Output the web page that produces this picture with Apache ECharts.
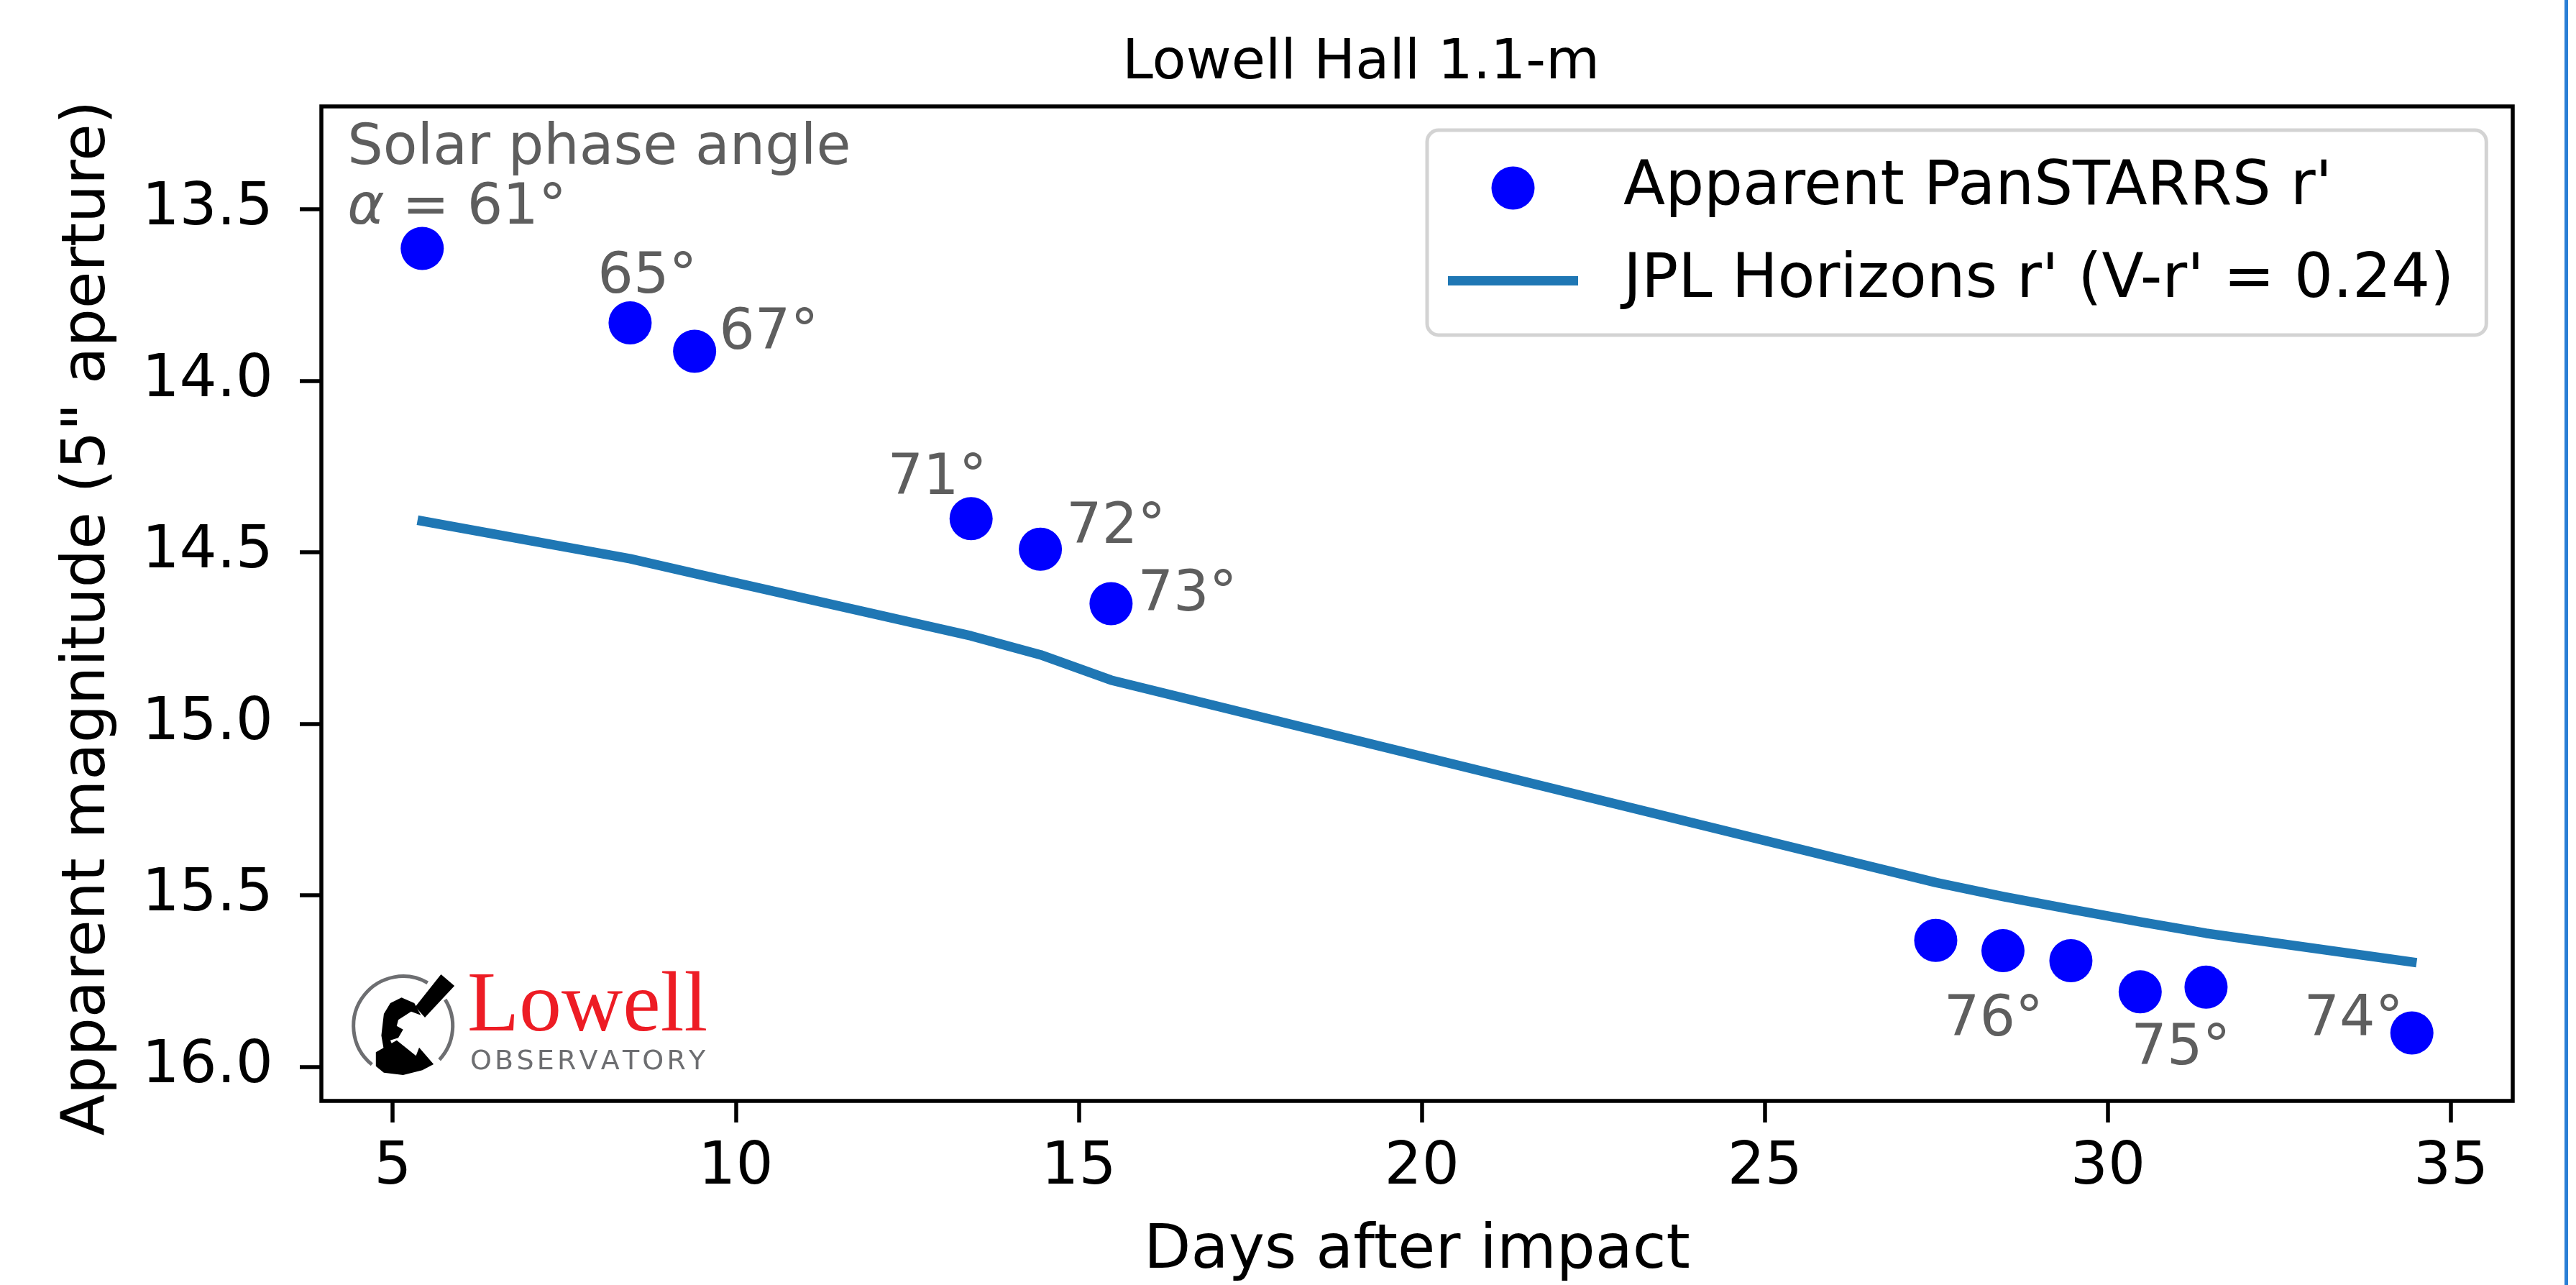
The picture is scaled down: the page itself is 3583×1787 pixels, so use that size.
<!DOCTYPE html>
<html><head><meta charset="utf-8">
<script src="https://cdn.jsdelivr.net/npm/echarts@6/dist/echarts.min.js"></script>
<style>html,body{margin:0;padding:0;background:#fff;} #c{width:3583px;height:1787px;}</style>
</head><body><div id="c"></div>
<script>
// ---- data ----
const days = [5.43, 8.46, 9.40, 13.43, 14.44, 15.47, 27.49, 28.47, 29.46, 30.47, 31.43, 34.43];
const apparentMag = [13.614, 13.831, 13.914, 14.402, 14.491, 14.650, 15.632, 15.662, 15.691, 15.782, 15.768, 15.902];
const horizonsMag = [14.409, 14.519, 14.562, 14.744, 14.799, 14.873, 15.463, 15.504, 15.541, 15.578, 15.611, 15.695];
const phaseAngles = ['61°', '65°', '67°', '71°', '72°', '73°', '', '76°', '', '', '75°', '74°'];
const xTicks = [5, 10, 15, 20, 25, 30, 35];
const yTicks = [13.5, 14.0, 14.5, 15.0, 15.5, 16.0];
const seriesNames = ["Apparent PanSTARRS r'", "JPL Horizons r' (V-r' = 0.24)"];
const subtitle = 'Lowell Hall 1.1-m';
const xName = 'Days after impact';
const yName = 'Apparent magnitude (5" aperture)';

// ---- label placement (style only) ----
const labelPlace = {
  0: {align: 'left', dx: -104, dy: -96},
  1: {align: 'center', dx: 24, dy: -62.5},
  2: {align: 'left', dx: 34, dy: -24},
  3: {align: 'right', dx: 22, dy: -54},
  4: {align: 'left', dx: 36, dy: -29},
  5: {align: 'left', dx: 37, dy: -10.5},
  7: {align: 'center', dx: -13, dy: 97.5},
  10: {align: 'center', dx: -35, dy: 87},
  11: {align: 'right', dx: -12, dy: -17}
};

const FONT = 'DejaVu Sans';
const GRAY = '#5e5e5e';

const scatterData = days.map((d, i) => {
  const item = {value: [d, apparentMag[i]]};
  if (phaseAngles[i] && labelPlace[i]) {
    const p = labelPlace[i];
    item.label = {
      show: true, position: 'inside', align: p.align, verticalAlign: 'middle',
      offset: [p.dx, p.dy],
      formatter: i === 0 ? 'Solar phase angle\n{a|α} = ' + phaseAngles[i] : phaseAngles[i]
    };
  }
  return item;
});
const lineData = days.map((d, i) => [d, horizonsMag[i]]);

// letter-spaced logo caption
const logoWord = 'OBSERVATORY';
const logoLetters = (function () {
  const ctx = document.createElement('canvas').getContext('2d');
  ctx.font = '38px "DejaVu Sans"';
  const spacing = 4.2;
  let x = 654;
  const out = [];
  for (const ch of logoWord) {
    out.push({type: 'text', z: 11, x: x, y: 1477,
      style: {text: ch, fill: '#6d6e71', fontFamily: FONT, fontSize: 38, verticalAlign: 'middle', align: 'left'}});
    x += ctx.measureText(ch).width + spacing;
  }
  return out;
})();

const chart = echarts.init(document.getElementById('c'), null, {renderer: 'canvas'});
chart.setOption({
  backgroundColor: '#ffffff',
  animation: false,
  title: {
    text: subtitle, left: 1893, top: 50, textAlign: 'center', padding: 0,
    textStyle: {fontFamily: FONT, fontSize: 77, fontWeight: 'normal', color: '#000'}
  },
  legend: {
    orient: 'vertical', left: 1985, top: 181,
    padding: [38, 45, 33, 29],
    itemWidth: 181, itemHeight: 60, itemGap: 44,
    backgroundColor: 'rgba(255,255,255,0.8)',
    borderColor: '#d3d3d3', borderWidth: 5, borderRadius: 16,
    textStyle: {fontFamily: FONT, fontSize: 85, color: '#000', lineHeight: 80, padding: [0, 0, 0, 58]},
    data: [
      {name: seriesNames[0], icon: 'circle'},
      {name: seriesNames[1], icon: 'path://M0 0H181V13H0Z'}
    ]
  },
  grid: {
    left: 447, top: 148, width: 3048, height: 1383,
    show: true, borderColor: '#000', borderWidth: 5.5, backgroundColor: 'transparent',
    outerBoundsMode: 'none', containLabel: false
  },
  xAxis: {
    type: 'value', min: 3.96, max: 35.9,
    axisLine: {show: false},
    splitLine: {show: false},
    axisTick: {show: true, inside: false, length: 30, lineStyle: {color: '#000', width: 5.5}, customValues: xTicks},
    axisLabel: {fontFamily: FONT, fontSize: 82, color: '#000', margin: 53, customValues: xTicks,
      formatter: v => String(v)},
    name: xName, nameLocation: 'middle', nameGap: 167,
    nameTextStyle: {fontFamily: FONT, fontSize: 85, color: '#000'}
  },
  yAxis: {
    type: 'value', inverse: true, min: 13.2, max: 16.1,
    axisLine: {show: false},
    splitLine: {show: false},
    axisTick: {show: true, inside: false, length: 30, lineStyle: {color: '#000', width: 5.5}, customValues: yTicks},
    axisLabel: {fontFamily: FONT, fontSize: 82, color: '#000', margin: 67, customValues: yTicks,
      formatter: v => Number(v).toFixed(1)},
    name: yName, nameLocation: 'middle', nameGap: 282, nameRotate: 90,
    nameTextStyle: {fontFamily: FONT, fontSize: 84, color: '#000', padding: [0, 40, 0, 0]}
  },
  series: [
    {
      name: seriesNames[0], type: 'scatter', z: 3,
      symbol: 'circle', symbolSize: 60,
      itemStyle: {color: '#0000ff', borderWidth: 0, opacity: 1},
      label: {
        show: false, fontFamily: FONT, fontSize: 78, color: GRAY, lineHeight: 83.5,
        rich: {a: {fontFamily: FONT, fontStyle: 'italic', fontSize: 78, color: GRAY, lineHeight: 83.5}}
      },
      emphasis: {disabled: true},
      data: scatterData
    },
    {
      name: seriesNames[1], type: 'line', z: 2,
      color: '#1f77b4',
      showSymbol: false, symbol: 'none',
      itemStyle: {color: '#1f77b4', borderWidth: 0},
      lineStyle: {color: '#1f77b4', width: 13.3, cap: 'square', join: 'round'},
      emphasis: {disabled: true},
      data: lineData
    }
  ],
  graphic: [
    // Lowell Observatory logo (approximation)
    {type: 'arc', z: 10, shape: {cx: 560.7, cy: 1426.7, r: 69, startAngle: 129 * Math.PI / 180, endAngle: 299.6 * Math.PI / 180, clockwise: true},
      style: {stroke: '#6d6e71', lineWidth: 5, fill: null}},
    {type: 'arc', z: 10, shape: {cx: 560.7, cy: 1426.7, r: 69, startAngle: -32 * Math.PI / 180, endAngle: 43 * Math.PI / 180, clockwise: true},
      style: {stroke: '#6d6e71', lineWidth: 5, fill: null}},
    {type: 'polygon', z: 11, shape: {points: [[613.4, 1355], [632.1, 1371], [591, 1415], [577.7, 1400]]}, style: {fill: '#000'}},
    {type: 'polygon', z: 11, shape: {points: [[558.5, 1387.3], [576.3, 1395], [585.3, 1411.7], [571.9, 1406.7], [554, 1418.3], [551.8, 1426.7], [560.7, 1431.7], [554, 1443.3], [542.9, 1446.7], [547.3, 1456.7], [533.9, 1460], [530.4, 1440], [533.9, 1410], [542.9, 1395]]}, style: {fill: '#000'}},
    {type: 'polygon', z: 11, shape: {points: [[522.8, 1463.3], [551.8, 1446.7], [578.6, 1468.3], [583, 1456.7], [603.1, 1480], [587.5, 1488.3], [560.7, 1495], [533.9, 1491.7], [522.8, 1482.7]]}, style: {fill: '#000'}},
    {type: 'text', z: 11, x: 650, y: 1402.5, style: {text: 'Lowell', fill: '#ed1c24', fontFamily: 'Liberation Serif', fontSize: 118, verticalAlign: 'middle', align: 'left'}},
    ...logoLetters,
    // right edge blue border
    {type: 'rect', z: 20, shape: {x: 3567, y: 0, width: 5, height: 1787}, style: {fill: '#2a7fd6'}}
  ]
});
</script>
</body></html>
